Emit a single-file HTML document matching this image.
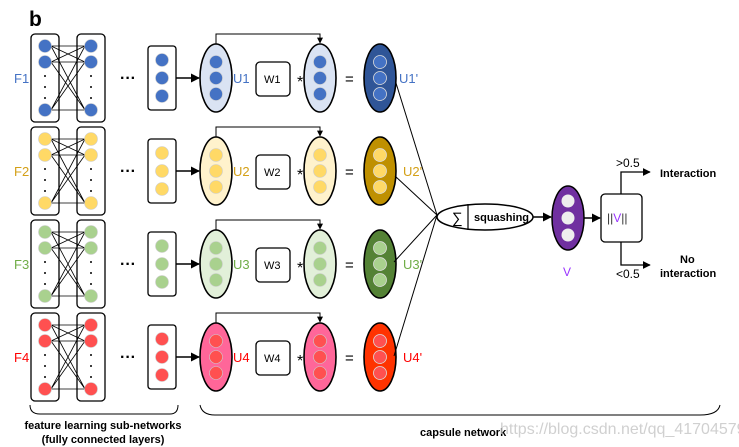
<!DOCTYPE html>
<html><head><meta charset="utf-8"><style>
body{margin:0;background:#fff}
svg{display:block;font-family:"Liberation Sans",sans-serif}
.c{fill:var(--c);stroke:#ccc;stroke-width:.6}
.l{fill:var(--l);stroke:#000;stroke-width:1.6}
.d{fill:var(--d);stroke:#000;stroke-width:1.6}
.ci{fill:var(--c);stroke:#ddd;stroke-width:.8}
.bx{fill:#fff;stroke:#000;stroke-width:1.3}
.ln{stroke:#000;stroke-width:.8;fill:none}
</style></head><body>
<svg width="739" height="447" viewBox="0 0 739 447">
<defs>
<marker id="a" viewBox="0 0 10 10" refX="9" refY="5" markerWidth="6" markerHeight="6" orient="auto"><path d="M0,0L10,5L0,10z" fill="#000"/></marker>
<g id="row">
<rect class="bx" x="31" y="-44" width="28" height="88" rx="4"/>
<rect class="bx" x="77" y="-44" width="28" height="88" rx="4"/>
<g class="ln">
<path d="M51,-32L85,-32M51,-32L85,-16M51,-32L85,32M51,-16L85,-32M51,-16L85,-16M51,-16L85,32M51,32L85,-32M51,32L85,-16M51,32L85,32"/>
</g>
<circle class="c" cx="45" cy="-32" r="6.5"/><circle class="c" cx="45" cy="-16" r="6.5"/><circle class="c" cx="45" cy="32" r="6.5"/>
<circle class="c" cx="91" cy="-32" r="6.5"/><circle class="c" cx="91" cy="-16" r="6.5"/><circle class="c" cx="91" cy="32" r="6.5"/>
<g fill="#000"><circle cx="45" cy="-2" r="1"/><circle cx="45" cy="9" r="1"/><circle cx="45" cy="20" r="1"/><circle cx="91" cy="-2" r="1"/><circle cx="91" cy="9" r="1"/><circle cx="91" cy="20" r="1"/></g>
<text x="120" y="5" font-size="16" font-weight="bold">···</text>
<rect class="bx" x="148" y="-32" width="28" height="64" rx="3"/>
<circle class="c" cx="162" cy="-18" r="6.5"/><circle class="c" cx="162" cy="0" r="6.5"/><circle class="c" cx="162" cy="18" r="6.5"/>
<line x1="176" y1="0" x2="199" y2="0" stroke="#000" stroke-width="1.5" marker-end="url(#a)"/>
<path d="M216,-34V-44H320V-35" stroke="#000" stroke-width="1" fill="none" marker-end="url(#a)"/>
<ellipse class="l" cx="216" cy="0" rx="16" ry="34"/>
<circle class="c" cx="216" cy="-16" r="6.5"/><circle class="c" cx="216" cy="0" r="6.5"/><circle class="c" cx="216" cy="16" r="6.5"/>
<rect class="bx" x="256" y="-16" width="34" height="34" rx="4"/>
<text x="297" y="9" font-size="16">*</text>
<ellipse class="l" cx="320" cy="0" rx="16" ry="34"/>
<circle class="c" cx="320" cy="-16" r="6.5"/><circle class="c" cx="320" cy="0" r="6.5"/><circle class="c" cx="320" cy="16" r="6.5"/>
<text x="345" y="6" font-size="15">=</text>
<ellipse class="d" cx="380" cy="0" rx="16" ry="34"/>
<circle class="ci" cx="380" cy="-16" r="6.5"/><circle class="ci" cx="380" cy="0" r="6.5"/><circle class="ci" cx="380" cy="16" r="6.5"/>
</g>
</defs>
<text x="29" y="26" font-size="21" font-weight="bold">b</text>

<g transform="translate(0,78)" style="--c:#4472c4;--l:#dae3f3;--d:#2f5597"><use href="#row"/>
<text x="14" y="5" font-size="13" fill="#4472c4">F1</text><text x="233" y="5" font-size="13" fill="#4472c4">U1</text>
<text x="264" y="5" font-size="11">W1</text><text x="399" y="5" font-size="13" fill="#4472c4">U1'</text></g>

<g transform="translate(0,171)" style="--c:#ffd966;--l:#fff2cc;--d:#bf9000"><use href="#row"/>
<text x="14" y="5" font-size="13" fill="#d4a017">F2</text><text x="233" y="5" font-size="13" fill="#d4a017">U2</text>
<text x="264" y="5" font-size="11">W2</text><text x="403" y="5" font-size="13" fill="#d4a017">U2'</text></g>

<g transform="translate(0,264)" style="--c:#a9d18e;--l:#e2f0d9;--d:#548235"><use href="#row"/>
<text x="14" y="5" font-size="13" fill="#70ad47">F3</text><text x="233" y="5" font-size="13" fill="#70ad47">U3</text>
<text x="264" y="5" font-size="11">W3</text><text x="403" y="5" font-size="13" fill="#70ad47">U3'</text></g>

<g transform="translate(0,357)" style="--c:#ff5050;--l:#ff6699;--d:#ff3300"><use href="#row"/>
<text x="14" y="5" font-size="13" fill="#ff0000">F4</text><text x="233" y="5" font-size="13" fill="#ff0000">U4</text>
<text x="264" y="5" font-size="11">W4</text><text x="403" y="5" font-size="13" fill="#ff0000">U4'</text></g>

<path d="M396,83L437,215M395,176L437,215M394,262L437,215M394,356L437,215" stroke="#000" stroke-width="1" fill="none"/>
<ellipse cx="485" cy="217" rx="48" ry="13" fill="#fff" stroke="#000" stroke-width="1.5"/>
<line x1="468" y1="204" x2="468" y2="230" stroke="#000" stroke-width="1.2"/>
<text x="452" y="223" font-size="15">∑</text>
<text x="474" y="221" font-size="11" font-weight="bold">squashing</text>
<line x1="533" y1="217" x2="551" y2="217" stroke="#000" stroke-width="1.5" marker-end="url(#a)"/>
<ellipse cx="568" cy="218" rx="16" ry="32" fill="#7030a0" stroke="#000" stroke-width="1.5"/>
<circle cx="568" cy="201" r="6.5" fill="#eee"/><circle cx="568" cy="218" r="6.5" fill="#eee"/><circle cx="568" cy="235" r="6.5" fill="#eee"/>
<line x1="584" y1="218" x2="600" y2="218" stroke="#000" stroke-width="1.5" marker-end="url(#a)"/>
<rect x="601" y="194" width="41" height="48" rx="4" fill="#fff" stroke="#000" stroke-width="1.3"/>
<text x="607" y="222" font-size="12" fill="#333">||<tspan fill="#9933ff">V</tspan>||</text>
<text x="563" y="276" font-size="12" fill="#9933ff">V</text>
<path d="M621,194V172H650" stroke="#000" stroke-width="1.3" fill="none" marker-end="url(#a)"/>
<path d="M621,242V265H650" stroke="#000" stroke-width="1.3" fill="none" marker-end="url(#a)"/>
<text x="616" y="167" font-size="12">&gt;0.5</text>
<text x="616" y="278" font-size="12">&lt;0.5</text>
<text x="660" y="177" font-size="11" font-weight="bold">Interaction</text>
<text x="680" y="263" font-size="11" font-weight="bold">No</text>
<text x="660" y="277" font-size="11" font-weight="bold">interaction</text>
<path d="M30,405Q30,414 40,414H170Q178,414 178,405" stroke="#000" fill="none"/>
<path d="M200,405Q202,415 215,415H700Q718,415 720,405" stroke="#000" fill="none"/>
<text x="103" y="429" font-size="11" font-weight="bold" text-anchor="middle">feature learning sub-networks</text>
<text x="103" y="443" font-size="11" font-weight="bold" text-anchor="middle">(fully connected layers)</text>
<text x="420" y="436" font-size="11" font-weight="bold">capsule network</text>
<text x="500" y="434" font-size="16" fill="#c8c8c8" opacity="0.85">https://blog.csdn.net/qq_41704579</text>
</svg>
</body></html>
